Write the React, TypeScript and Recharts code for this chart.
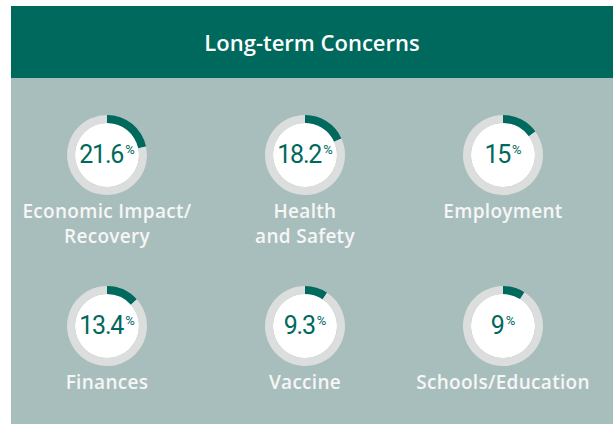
import React from "react";
import { PieChart, Pie, Cell, Label } from "recharts";

const categories: string[][] = [
  ["Economic Impact/", "Recovery"],
  ["Health", "and Safety"],
  ["Employment"],
  ["Finances"],
  ["Vaccine"],
  ["Schools/Education"],
];
const values: number[] = [21.6, 18.2, 15, 13.4, 9.3, 9];
const valueLabels: string[] = ["21.6", "18.2", "15", "13.4", "9.3", "9"];
const title = "Long-term Concerns";

const TEAL = "#00695D";
const BG = "#A8BEBC";
const RING = "#DCDDDD";
const W = 613;
const H = 425;
const colX = [107, 305, 503];
const rowY = [155, 326];

const NUM_FONT = "Roboto, 'Open Sans', sans-serif";
const LABEL_FONT = "'Open Sans', sans-serif";

function makeLabel(idx: number, cx: number, cy: number) {
  return () => {
    const lines = categories[idx];
    return (
      <g>
        <text
          x={cx}
          y={cy + 8}
          textAnchor="middle"
          fontFamily={NUM_FONT}
          fill={TEAL}
        >
          <tspan fontSize={25} fontWeight={400} letterSpacing={-1.2}>{valueLabels[idx]}</tspan>
          <tspan fontSize={13} fontWeight={400} dy={-9} dx={2}>%</tspan>
        </text>
        {lines.map((ln, i) => (
          <text
            key={i}
            x={cx}
            y={cy + 63 + i * 25}
            textAnchor="middle"
            fontFamily={LABEL_FONT}
            fontWeight={600}
            fontSize={19}
            letterSpacing={0.3}
            fill="#F6F6F6"
          >
            {ln}
          </text>
        ))}
      </g>
    );
  };
}

export default function App() {
  return (
    <div style={{ position: "absolute", left: 0, top: 0, width: W, height: H, background: "#fff" }}>
      <div style={{ position: "absolute", left: 11, top: 6, width: W - 11, height: H - 7, background: BG }} />
      <div
        style={{
          position: "absolute",
          left: 11,
          top: 6,
          width: W - 11,
          height: 72,
          background: TEAL,
          color: "#fff",
          fontFamily: LABEL_FONT,
          fontWeight: 600,
          fontSize: 22,
          display: "flex",
          alignItems: "center",
          justifyContent: "center",
        }}
      >
        {title}
      </div>
      <div style={{ position: "absolute", left: 0, top: 0 }}>
        <PieChart width={W} height={H} margin={{ top: 0, right: 0, bottom: 0, left: 0 }}>
          {values.map((v, i) => {
            const cx = colX[i % 3];
            const cy = rowY[Math.floor(i / 3)];
            return (
              <Pie
                key={"disk" + i}
                data={[{ name: "disk", value: 1 }]}
                dataKey="value"
                cx={cx}
                cy={cy}
                innerRadius={0}
                outerRadius={32}
                fill="#ffffff"
                stroke="none"
                isAnimationActive={false}
              />
            );
          })}
          {values.map((v, i) => {
            const cx = colX[i % 3];
            const cy = rowY[Math.floor(i / 3)];
            return (
              <Pie
                key={"ring" + i}
                data={[
                  { name: "share", value: v },
                  { name: "rest", value: 100 - v },
                ]}
                dataKey="value"
                cx={cx}
                cy={cy}
                startAngle={90}
                endAngle={-270}
                innerRadius={32}
                outerRadius={40}
                stroke="none"
                isAnimationActive={false}
              >
                <Cell fill={TEAL} />
                <Cell fill={RING} />
                <Label position="center" content={makeLabel(i, cx, cy)} />
              </Pie>
            );
          })}
        </PieChart>
      </div>
    </div>
  );
}
